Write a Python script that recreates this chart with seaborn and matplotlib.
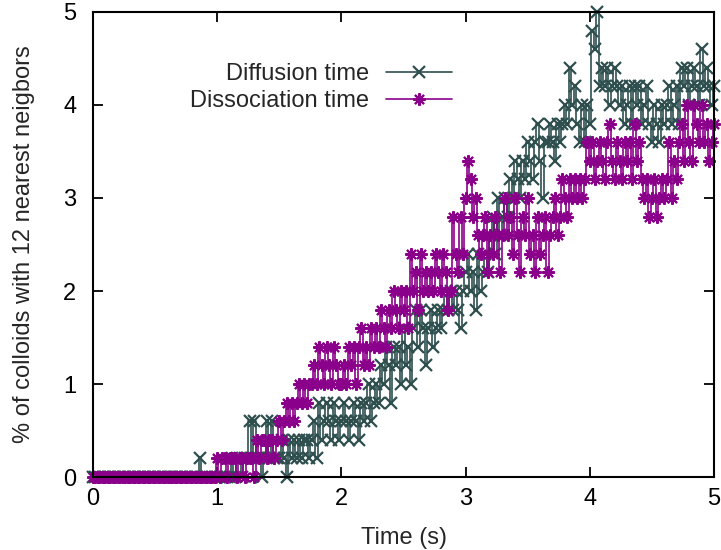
import numpy as np
import pandas as pd
import matplotlib
matplotlib.use("Agg")
import matplotlib.pyplot as plt
import seaborn as sns

# sampling step of the trajectories (s)
dt = 0.02

# number of colloids (out of 500) with 12 nearest neighbours -> 1 colloid = 0.2 %
diffusion_counts = (
    [0] * 43 + [1] + [0] * 12
    + [1, 0, 1, 1, 0, 1, 1, 3]
    + [1, 3, 1, 1, 0, 1, 3, 1, 3, 1]
    + [1, 1, 2, 1, 0, 2, 1, 2, 1]
    + [2, 1, 2, 2, 1, 2]
    + [3, 1, 4, 2, 3, 4]
    + [3, 2, 4, 3, 2, 3, 4, 3, 2, 3]
    + [4, 3, 2, 4, 3, 4, 5, 3, 4, 5]
    + [4, 6, 5, 7, 6, 4, 7, 6]
    + [7, 5, 8, 6, 7, 5, 8, 9]
    + [7, 9, 8, 6, 8, 9, 7, 8]
    + [9, 8, 9, 10, 9, 10, 9]
    + [10, 9, 8, 10, 11, 12, 10]
    + [11, 9, 12, 10, 11, 12, 11]
    + [13, 14, 12, 15, 13, 14, 15]
    + [14, 16, 15, 17, 16, 15, 17, 16]
    + [18, 17, 16, 18, 19, 17, 15, 18]
    + [18, 19, 18, 17, 19, 18, 19, 20]
    + [19, 22, 20, 21, 19, 18, 20]
    + [18, 20, 19, 24, 23, 25, 21, 22]
    + [21, 22, 20, 21, 22, 21, 20, 21, 19]
    + [20, 21, 19, 21, 20, 21, 19, 20]
    + [21, 19, 18, 20, 19, 18, 20, 19]
    + [20, 21, 19, 20, 21, 19, 22]
    + [21, 22, 20, 21, 22, 21, 20]
    + [23, 21, 22, 21, 20, 21]
)

dissociation_counts = (
    [0] * 50
    + [1, 0, 1, 1, 0, 1, 1, 1, 0, 1, 1, 0, 1, 1, 1, 0]
    + [2, 1, 2, 2, 1, 2, 2, 1, 2]
    + [3, 2, 3, 4, 3, 4, 3, 4]
    + [5, 4, 5, 4, 5, 5]
    + [6, 5, 7, 6, 5, 7, 6, 5, 7, 6, 5]
    + [5, 6, 5]
    + [7, 6, 7, 5, 7, 8, 6, 7, 6, 8]
    + [7, 8, 7, 9, 8, 7, 9]
    + [8, 10, 9, 8, 10, 9, 10, 8]
    + [12, 10, 11, 9, 12, 10, 11, 10]
    + [11, 10, 12, 11, 10, 12, 11, 9]
    + [10, 14, 12, 11, 14, 12]
    + [15, 17, 16, 14, 15, 13]
    + [12, 13, 14, 11, 13, 12, 14, 13, 11, 13]
    + [15, 13, 14, 12, 15, 13, 11, 14, 13, 15, 12]
    + [13, 11, 14, 12, 13, 14, 11, 13, 14]
    + [15, 13, 14, 16, 15, 14, 16, 15]
    + [16, 15, 16, 15, 16]
    + [18, 17, 18, 16, 17, 18, 17]
    + [16, 18, 19, 17, 16, 18, 17, 16, 18]
    + [17, 18, 16, 19, 17, 18, 16]
    + [15, 16, 14, 15, 16, 14, 15, 16, 15]
    + [16, 18, 15, 17, 16, 18]
    + [19, 17, 20, 18, 17, 20, 19, 18]
    + [20, 18, 19, 17, 18, 19]
)

percent_per_colloid = 0.2

df_diff = pd.DataFrame({
    "time": np.arange(len(diffusion_counts)) * dt,
    "pct": np.array(diffusion_counts) * percent_per_colloid,
})
df_diss = pd.DataFrame({
    "time": np.arange(len(dissociation_counts)) * dt,
    "pct": np.array(dissociation_counts) * percent_per_colloid,
})

sns.set_style("ticks")
plt.rcParams["font.family"] = ["Liberation Sans", "DejaVu Sans"]

fig = plt.figure(figsize=(7.21, 5.5), dpi=100)
ax = fig.add_axes([0.129, 0.1327, 0.8613, 0.8455])

green = "#2f4f4f"
purple = "#8b008b"

sns.lineplot(data=df_diff, x="time", y="pct", ax=ax, estimator=None,
             color=green, lw=1.2, marker="x", markersize=8,
             markeredgecolor=green, markeredgewidth=1.6,
             drawstyle="steps-mid", clip_on=False, label="Diffusion time")
sns.lineplot(data=df_diss, x="time", y="pct", ax=ax, estimator=None,
             color=purple, lw=1.2, marker=(8, 2, 0), markersize=9,
             markeredgecolor=purple, markeredgewidth=1.5,
             drawstyle="steps-mid", clip_on=False, label="Dissociation time")

ax.set_xlim(0, 5)
ax.set_ylim(0, 5)
ax.set_xticks([0, 1, 2, 3, 4, 5])
ax.set_yticks([0, 1, 2, 3, 4, 5])
ax.set_xlabel("Time (s)", fontsize=17, labelpad=12)
ax.set_ylabel("% of colloids with 12 nearest neigbors", fontsize=17, labelpad=20)

for s in ax.spines.values():
    s.set_visible(True)
    s.set_linewidth(1.5)
    s.set_color("black")
ax.tick_params(direction="in", length=7, width=1.3, top=True, right=True,
               labelsize=17, colors="black")
ax.tick_params(axis="y", pad=12)
ax.tick_params(axis="x", pad=8)

ax.legend(loc="upper right", bbox_to_anchor=(0.578, 0.89), frameon=False,
          markerfirst=False, fontsize=17, handlelength=2.8, handletextpad=0.7,
          borderpad=0, borderaxespad=0, labelspacing=0.2, numpoints=1)

fig.savefig("out.png", dpi=100)
